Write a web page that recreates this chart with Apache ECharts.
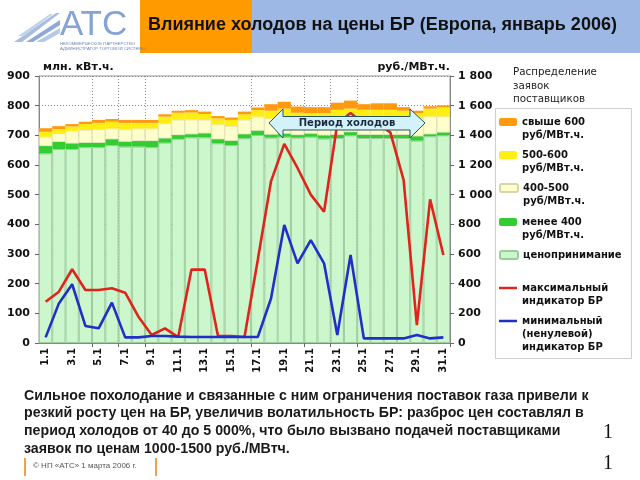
<!DOCTYPE html>
<html><head><meta charset="utf-8">
<script src="https://cdn.jsdelivr.net/npm/echarts@6/dist/echarts.min.js"></script>
<style>html,body{margin:0;padding:0;background:#fff}#c{width:640px;height:480px}</style>
</head><body><div id="c"></div>
<script>
const days = ['1.1','2.1','3.1','4.1','5.1','6.1','7.1','8.1','9.1','10.1','11.1','12.1','13.1','14.1','15.1','16.1','17.1','18.1','19.1','20.1','21.1','22.1','23.1','24.1','25.1','26.1','27.1','28.1','29.1','30.1','31.1'];
// объёмы, млн. кВт.ч.
const priceTaking = [639,654,654,660,660,667,662,662,660,675,688,693,693,673,667,690,701,692,695,692,695,689,691,700,691,691,691,691,682,697,700];
const below400   = [25,24,19,15,15,20,17,19,21,15,13,11,14,14,15,14,15,11,11,9,11,11,11,11,11,11,11,11,15,7,10];
const from400to500 = [31,29,42,43,45,36,41,42,42,50,51,49,45,50,49,48,47,54,56,54,49,55,63,59,63,63,63,61,61,60,54];
const from500to600 = [17,14,15,20,22,23,22,19,19,23,24,24,20,20,21,19,22,26,28,21,20,20,21,20,21,21,21,20,17,26,30];
const above600   = [12,10,8,8,10,9,10,10,10,8,7,8,8,8,8,9,9,22,23,21,20,20,24,27,19,22,22,12,8,8,7];
// индикаторы, руб./МВт.ч.
const maxIndicator = [278,346,497,357,357,369,339,177,54,99,40,495,495,47,47,40,560,1090,1342,1180,1000,885,1480,1550,1480,1480,1420,1100,121,969,593];
const minIndicator = [38,267,396,115,99,272,38,38,47,47,43,40,40,40,40,40,40,300,796,537,694,537,54,593,31,31,31,31,54,31,38];
const leftTicks = {min:0, max:900, interval:100};
const rightTicks = {min:0, max:1800, interval:200};
const gridTickIdx = [4,6,8,16,20,22,24];

const names = {
  o:'свыше 600 руб/МВт.ч.', y:'500-600 руб/МВт.ч.', c:'400-500 руб/МВт.ч.',
  g:'менее 400 руб/МВт.ч.', l:'ценопринимание', r:'максимальный индикатор БР', b:'минимальный (ненулевой) индикатор БР'
};
const legendText = {};
legendText[names.o] = '\nсвыше 600\nруб/МВт.ч.';
legendText[names.y] = '\n500-600\nруб/МВт.ч.';
legendText[names.c] = '\n400-500\nруб/МВт.ч.';
legendText[names.g] = '\nменее 400\nруб/МВт.ч.';
legendText[names.l] = 'ценопринимание';
legendText[names.r] = '\nмаксимальный\nиндикатор БР';
legendText[names.b] = '\n\nминимальный\n(ненулевой)\nиндикатор БР';

const F = 'DejaVu Sans';
function mkLegend(name, top, isLine){
  const lg = {
    data:[name], left:499, top: top, padding:0, orient:'vertical',
    itemWidth:18, itemHeight:isLine ? 2.5 : 8, itemGap:0, selectedMode:false,
    formatter: n => legendText[n],
    textStyle:{fontFamily:F, fontWeight:'bold', fontSize:10, color:'#111', lineHeight:13}
  };
  if (isLine) lg.icon = 'rect';
  return lg;
}

const chart = echarts.init(document.getElementById('c'), null, {renderer:'canvas'});
const barBase = {type:'bar', stack:'v', barCategoryGap:'0%', yAxisIndex:0};
chart.setOption({
  animation:false,
  backgroundColor:'#fff',
  grid:{left:39, top:76, width:411, height:267, show:true, borderColor:'#999', borderWidth:1, backgroundColor:'transparent'},
  legend:[
    mkLegend(names.o, 102.5),
    mkLegend(names.y, 135.5),
    mkLegend(names.c, 168.5),
    mkLegend(names.g, 202.5),
    mkLegend(names.l, 248.5),
    mkLegend(names.r, 268.5, true),
    mkLegend(names.b, 288.5, true)
  ],
  xAxis:{
    type:'category', data:days, boundaryGap:true,
    axisLine:{lineStyle:{color:'#888'}},
    axisTick:{show:true, length:4, interval:(i)=>gridTickIdx.includes(i), lineStyle:{color:'#666'}},
    splitLine:{show:true, interval:(i)=>gridTickIdx.includes(i), lineStyle:{color:'#888', type:[1,2]}},
    axisLabel:{interval:1, rotate:90, margin:5, fontFamily:F, fontWeight:'bold', fontSize:10, color:'#111'}
  },
  yAxis:[
    {type:'value', min:leftTicks.min, max:leftTicks.max, interval:leftTicks.interval, position:'left',
     name:'млн. кВт.ч.', nameLocation:'end', nameGap:3,
     nameTextStyle:{fontFamily:F, fontWeight:'bold', fontSize:11, color:'#111', align:'left', padding:[0,0,0,4]},
     axisLine:{show:true, lineStyle:{color:'#888'}},
     axisTick:{show:true, length:4, lineStyle:{color:'#666'}},
     splitLine:{show:true, lineStyle:{color:'#888', type:[1,2]}},
     axisLabel:{margin:9, fontFamily:F, fontWeight:'bold', fontSize:11, color:'#111'}},
    {type:'value', min:rightTicks.min, max:rightTicks.max, interval:rightTicks.interval, position:'right',
     name:'руб./МВт.ч.', nameLocation:'end', nameGap:3,
     nameTextStyle:{fontFamily:F, fontWeight:'bold', fontSize:11, color:'#111', align:'right', padding:[0,0,0,0]},
     axisLine:{show:true, lineStyle:{color:'#888'}},
     axisTick:{show:true, length:4, lineStyle:{color:'#666'}},
     splitLine:{show:false},
     axisLabel:{margin:8, fontFamily:F, fontWeight:'bold', fontSize:11, color:'#111',
       formatter:v => v >= 1000 ? Math.floor(v/1000) + ' ' + String(v%1000).padStart(3,'0') : String(v)}}
  ],
  series:[
    Object.assign({}, barBase, {name:names.l, data:priceTaking, itemStyle:{color:'#ccf6cc', borderColor:'#9ccc9c', borderWidth:1}}),
    Object.assign({}, barBase, {name:names.g, data:below400, itemStyle:{color:'#33cc33'}}),
    Object.assign({}, barBase, {name:names.c, data:from400to500, itemStyle:{color:'#ffffcc', borderColor:'#d6d6a8', borderWidth:0.6}}),
    Object.assign({}, barBase, {name:names.y, data:from500to600, itemStyle:{color:'#ffee11'}}),
    Object.assign({}, barBase, {name:names.o, data:above600, itemStyle:{color:'#ff9a10'}}),
    {type:'line', name:names.r, yAxisIndex:1, data:maxIndicator, symbol:'none', z:5,
     lineStyle:{color:'#e0241c', width:2.6}, itemStyle:{color:'#e0241c'}},
    {type:'line', name:names.b, yAxisIndex:1, data:minIndicator, symbol:'none', z:5,
     lineStyle:{color:'#1f2fc8', width:2.6}, itemStyle:{color:'#1f2fc8'}}
  ],
  graphic:{elements:[
    // header
    {type:'rect', shape:{x:140, y:0, width:112, height:53}, style:{fill:'#ff9a00'}, z:1},
    {type:'rect', shape:{x:252, y:0, width:388, height:53}, style:{fill:'#9db8e4'}, z:1},
    {type:'text', left:148, top:16, z:2, style:{text:'Влияние холодов на цены БР (Европа, январь 2006)', fontFamily:'Liberation Sans', fontWeight:'bold', fontSize:18, fill:'#111'}},
    // logo
    {type:'polygon', z:2, shape:{points:[[14,42],[56,13],[60,13],[22,42]]}, style:{fill:'#a9bedf'}},
    {type:'polygon', z:2, shape:{points:[[18,36],[50,14],[53,14],[24,36]]}, style:{fill:'#c3d3ea'}},
    {type:'polygon', z:2, shape:{points:[[26,42],[60,20],[60,25],[33,42]]}, style:{fill:'#8fa9d6'}},
    {type:'polygon', z:2, shape:{points:[[36,42],[60,28],[60,33],[44,42]]}, style:{fill:'#b5c8e6'}},
    {type:'text', left:60, top:8, z:2, style:{text:'АТС', fontFamily:'Liberation Sans', fontSize:35, fill:'#86a3d4'}},
    {type:'text', left:60, top:41, z:2, style:{text:'НЕКОММЕРЧЕСКОЕ ПАРТНЕРСТВО\nАДМИНИСТРАТОР ТОРГОВОЙ СИСТЕМЫ', fontFamily:'Liberation Sans', fontSize:4.3, lineHeight:5, fill:'#6a86b8'}},
    // legend title and frame
    {type:'text', left:513, top:66, z:2, style:{text:'Распределение\nзаявок\nпоставщиков', fontFamily:F, fontSize:10.3, lineHeight:13.5, fill:'#222'}},
    {type:'rect', z:0, shape:{x:495.5, y:108.5, width:136, height:250}, style:{fill:'none', stroke:'#cfcfcf', lineWidth:1}},
    // cold period arrow
    {type:'polygon', z:20, shape:{points:[[269,123],[283,109],[283,116.5],[410,116.5],[410,109],[425,123],[410,138],[410,130],[283,130],[283,138]]},
     style:{fill:'#d2f3fb', stroke:'#2d5560', lineWidth:1}},
    {type:'text', z:21, x:347, y:123.5, style:{text:'Период холодов', fontFamily:F, fontWeight:'bold', fontSize:10, fill:'#1c2a40', align:'center', verticalAlign:'middle'}},
    // paragraph
    {type:'text', left:24, top:387, z:2, style:{text:'Сильное похолодание и связанные с ним ограничения поставок газа привели к\nрезкий росту цен на БР, увеличив волатильность БР: разброс цен составлял в\nпериод холодов от 40 до 5 000%, что было вызвано подачей поставщиками\nзаявок по ценам 1000-1500 руб./МВтч.', fontFamily:'Liberation Sans', fontWeight:'bold', fontSize:14.2, lineHeight:17.6, fill:'#1a1a1a'}},
    // footer
    {type:'rect', z:2, shape:{x:24, y:458, width:2, height:18}, style:{fill:'#f0a050'}},
    {type:'rect', z:2, shape:{x:155, y:458, width:2, height:18}, style:{fill:'#f0a050'}},
    {type:'text', left:33, top:462, z:2, style:{text:'© НП «АТС» 1 марта 2006 г.', fontFamily:'Liberation Sans', fontSize:8, fill:'#555'}},
    {type:'text', left:603, top:423, z:2, style:{text:'1\n\n1', fontFamily:'Liberation Serif', fontSize:20, lineHeight:15.5, fill:'#111'}}
  ]}
});
</script></body></html>
